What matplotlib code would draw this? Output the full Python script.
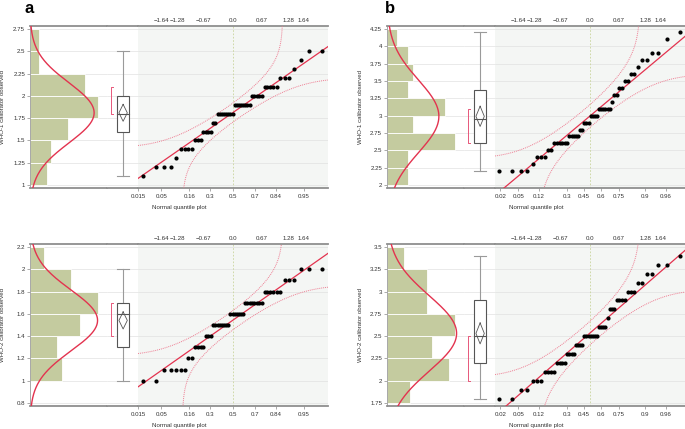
from statistics import NormalDist

import numpy as np
import matplotlib
matplotlib.use("Agg")
import matplotlib.pyplot as plt

plt.rcParams["font.family"] = ["Liberation Sans", "DejaVu Sans"]

A1_VALUES = [1.1, 1.2, 1.3, 1.4, 1.5, 1.6, 1.7, 1.8, 1.9, 2.0, 2.1, 2.2, 2.3, 2.4, 2.5]
A1_COUNTS = [1, 3, 1, 4, 3, 4, 2, 8, 8, 5, 5, 3, 1, 1, 2]
A2_VALUES = [1.0, 1.1, 1.2, 1.3, 1.4, 1.5, 1.6, 1.7, 1.8, 1.9, 2.0]
A2_COUNTS = [2, 5, 2, 4, 3, 8, 7, 8, 6, 3, 3]
B1_VALUES = [2.2, 2.3, 2.4, 2.5, 2.6, 2.7, 2.8, 2.9, 3.0, 3.1, 3.2, 3.3, 3.4, 3.5,
             3.6, 3.7, 3.8, 3.9, 4.1, 4.2]
B1_COUNTS = [4, 1, 3, 2, 6, 5, 2, 3, 4, 6, 1, 2, 2, 2, 2, 1, 2, 2, 1, 1]
B2_VALUES = [1.8, 1.9, 2.0, 2.1, 2.2, 2.3, 2.4, 2.5, 2.6, 2.7, 2.8, 2.9, 3.0, 3.1,
             3.2, 3.3, 3.4]
B2_COUNTS = [2, 2, 3, 4, 4, 4, 4, 7, 4, 1, 3, 4, 3, 2, 2, 2, 1]

# axis ticks / histogram bins (lo, hi, step)
A1_YTICKS = (1.0, 2.75, 0.25)
A2_YTICKS = (0.8, 2.2, 0.2)
B1_YTICKS = (2.0, 4.25, 0.25)
B2_YTICKS = (1.75, 3.5, 0.25)
A1_BINS = (1.0, 2.75, 0.25)
A2_BINS = (1.0, 2.2, 0.2)
B1_BINS = (2.0, 4.25, 0.25)
B2_BINS = (1.75, 3.5, 0.25)

A_PROBS = [0.015, 0.05, 0.16, 0.3, 0.5, 0.7, 0.84, 0.95]
B_PROBS = [0.02, 0.05, 0.12, 0.3, 0.45, 0.6, 0.75, 0.9, 0.96]
Z_TICKS = [-1.64, -1.28, -0.67, 0.0, 0.67, 1.28, 1.64]
Z_LABELS = ["\u22121.64", "\u22121.28", "\u22120.67", "0.0", "0.67", "1.28", "1.64"]

W, H = 685, 429
BAR = "#c4cb9f"
RED = "#e3334f"
BAND = "#ee7d92"
GRID = "#e1e1e1"
FRAME = "#8f8f8f"
TEXT = "#333333"
QQ_BG = "#f4f6f4"
FS = 4.4

ND = NormalDist()


def px_axes(fig, left, top, width, height):
    return fig.add_axes([left / W, 1 - (top + height) / H, width / W, height / H])


def ticks_from(spec):
    lo, hi, step = spec
    k = int(round((hi - lo) / step))
    return [round(lo + i * step, 4) for i in range(k + 1)]


def draw_panel(fig, x0, top, values, counts, ytick_spec, bin_spec, probs, ylabel):
    obs = np.sort(np.repeat(values, counts))
    n = len(obs)
    mean = obs.mean()
    sd = obs.std(ddof=1)
    yticks = ticks_from(ytick_spec)
    pad = (yticks[-1] - yticks[0]) * 3 / 156
    ylim = (yticks[0] - pad, yticks[-1] + pad)

    ax_h = px_axes(fig, x0, top, 77, 162)
    ax_b = px_axes(fig, x0 + 77, top, 31, 162)
    ax_q = px_axes(fig, x0 + 108, top, 190, 162)
    for ax in (ax_h, ax_b, ax_q):
        ax.set_ylim(ylim)
        ax.set_yticks(yticks)
        ax.grid(axis="y", color=GRID, lw=0.5)
        ax.set_axisbelow(True)
        for s in ("top", "bottom"):
            ax.spines[s].set_color(FRAME)
            ax.spines[s].set_linewidth(1.3)
        ax.spines["left"].set_visible(False)
        ax.tick_params(axis="x", bottom=False, labelbottom=False)
        ax.tick_params(axis="y", left=False, labelleft=False)

    # histogram with fitted normal curve
    edges = np.array(ticks_from(bin_spec))
    cnt, _, _ = ax_h.hist(obs, bins=edges - 1e-9, orientation="horizontal",
                          color=BAR, edgecolor="white", linewidth=0.6, zorder=2)
    ax_h.set_xlim(0, cnt.max() * 1.13)
    yy = np.linspace(ylim[0], ylim[1], 300)
    bw = edges[1] - edges[0]
    ax_h.plot([n * bw * ND.pdf((v - mean) / sd) / sd for v in yy], yy,
              color=RED, lw=1.0, zorder=3)
    ax_h.spines["left"].set_visible(True)
    ax_h.spines["left"].set_color("#9a9a9a")
    ax_h.spines["left"].set_linewidth(0.6)
    ax_h.spines["right"].set_color("#dadada")
    ax_h.spines["right"].set_linewidth(0.6)
    ax_h.tick_params(axis="y", left=True, labelleft=True, length=2, width=0.5,
                     color="#888888", labelsize=FS, labelcolor=TEXT, pad=1.5)
    ax_h.set_yticklabels([f"{v:g}" for v in yticks])

    # outlier box plot, mean diamond and shortest-half bracket
    q1, med, q3 = np.percentile(obs, [25, 50, 75], method="weibull")
    iqr = q3 - q1
    lo = obs[obs >= q1 - 1.5 * iqr].min()
    hi = obs[obs <= q3 + 1.5 * iqr].max()
    c, hw, dw = 0.52, 0.205, 0.135
    wk = dict(color="#9a9a9a", lw=0.8, zorder=2)
    ax_b.plot([c, c], [lo, q1], **wk)
    ax_b.plot([c, c], [q3, hi], **wk)
    ax_b.plot([c - hw, c + hw], [lo, lo], **wk)
    ax_b.plot([c - hw, c + hw], [hi, hi], **wk)
    ax_b.add_patch(plt.Rectangle((c - hw, q1), 2 * hw, q3 - q1, facecolor="white",
                                 edgecolor="#555555", lw=0.8, zorder=3))
    ax_b.plot([c - hw, c + hw], [med, med], color="#555555", lw=0.8, zorder=4)
    tcrit = 1.96 + (1.96 ** 3 + 1.96) / (4 * (n - 1))
    ci = tcrit * sd / np.sqrt(n)
    ax_b.plot([c, c + dw, c, c - dw, c], [mean + ci, mean, mean - ci, mean, mean + ci],
              color="#555555", lw=0.6, zorder=4)
    h = int(np.ceil(n / 2))
    spans = np.round(obs[h - 1:] - obs[:n - h + 1], 6)
    i = int(np.argmin(spans))
    s_lo, s_hi = obs[i], obs[i + h - 1]
    bx = 0.12
    ax_b.plot([bx + 0.06, bx, bx, bx + 0.06], [s_hi, s_hi, s_lo, s_lo],
              color="#e7577a", lw=0.7, zorder=4)
    ax_b.set_xlim(0, 1)
    ax_b.spines["right"].set_color("#bdbdbd")
    ax_b.spines["right"].set_linewidth(0.7)

    # normal quantile plot
    z = np.array([ND.inv_cdf(k / (n + 1)) for k in range(1, n + 1)])
    zlim = (-2.18, 2.2)
    ax_q.set_facecolor(QQ_BG)
    ax_q.set_xlim(zlim)
    ax_q.spines["right"].set_visible(False)
    ax_q.axvline(0, color="#c9d49c", ls=(0, (2, 2)), lw=0.6, zorder=1)
    zz = np.linspace(zlim[0], zlim[1], 1500)
    ax_q.plot(zz, mean + sd * zz, color=RED, lw=0.9, zorder=3)
    d = 0.886 / np.sqrt(n)
    pz = np.array([ND.cdf(v) for v in zz])
    up = np.array([mean + sd * ND.inv_cdf(p + d) if p + d < 1 else np.nan for p in pz])
    dn = np.array([mean + sd * ND.inv_cdf(p - d) if p - d > 0 else np.nan for p in pz])
    ax_q.plot(zz, up, color=BAND, ls=(0, (1, 1)), lw=0.7, zorder=3)
    ax_q.plot(zz, dn, color=BAND, ls=(0, (1, 1)), lw=0.7, zorder=3)
    ax_q.scatter(z, obs, s=9, color="black", linewidths=0, zorder=5)

    ax_q.set_xticks([ND.inv_cdf(p) for p in probs])
    ax_q.set_xticklabels([f"{p:g}" for p in probs])
    ax_q.tick_params(axis="x", bottom=True, labelbottom=True, length=2, width=0.5,
                     color="#888888", labelsize=FS, labelcolor=TEXT, pad=2)
    sec = ax_q.secondary_xaxis("top")
    sec.set_xticks(Z_TICKS)
    sec.set_xticklabels(Z_LABELS)
    sec.tick_params(length=0, pad=2.5, labelsize=FS, labelcolor=TEXT)
    sec.spines["top"].set_visible(False)

    fig.text((x0 - 27) / W, 1 - (top + 81) / H, ylabel, rotation=90,
             ha="center", va="center", fontsize=FS, color=TEXT)
    fig.text((x0 + 149) / W, 1 - (top + 182) / H, "Normal quantile plot",
             ha="center", va="center", fontsize=FS, color=TEXT)


def main() -> None:
    fig = plt.figure(figsize=(W / 100, H / 100), dpi=100)
    draw_panel(fig, 30, 26, A1_VALUES, A1_COUNTS, A1_YTICKS, A1_BINS, A_PROBS,
               "WHO-1 calibrator observed")
    draw_panel(fig, 30, 244, A2_VALUES, A2_COUNTS, A2_YTICKS, A2_BINS, A_PROBS,
               "WHO-2 calibrator observed")
    draw_panel(fig, 387, 26, B1_VALUES, B1_COUNTS, B1_YTICKS, B1_BINS, B_PROBS,
               "WHO-1 calibrator observed")
    draw_panel(fig, 387, 244, B2_VALUES, B2_COUNTS, B2_YTICKS, B2_BINS, B_PROBS,
               "WHO-2 calibrator observed")
    fig.text(29 / W, 1 - 13 / H, "a", fontsize=12, fontweight="bold", ha="center", va="baseline")
    fig.text(390 / W, 1 - 13 / H, "b", fontsize=12, fontweight="bold", ha="center", va="baseline")
    fig.savefig("out.png", dpi=100)
    plt.close(fig)


if __name__ == "__main__":
    main()
